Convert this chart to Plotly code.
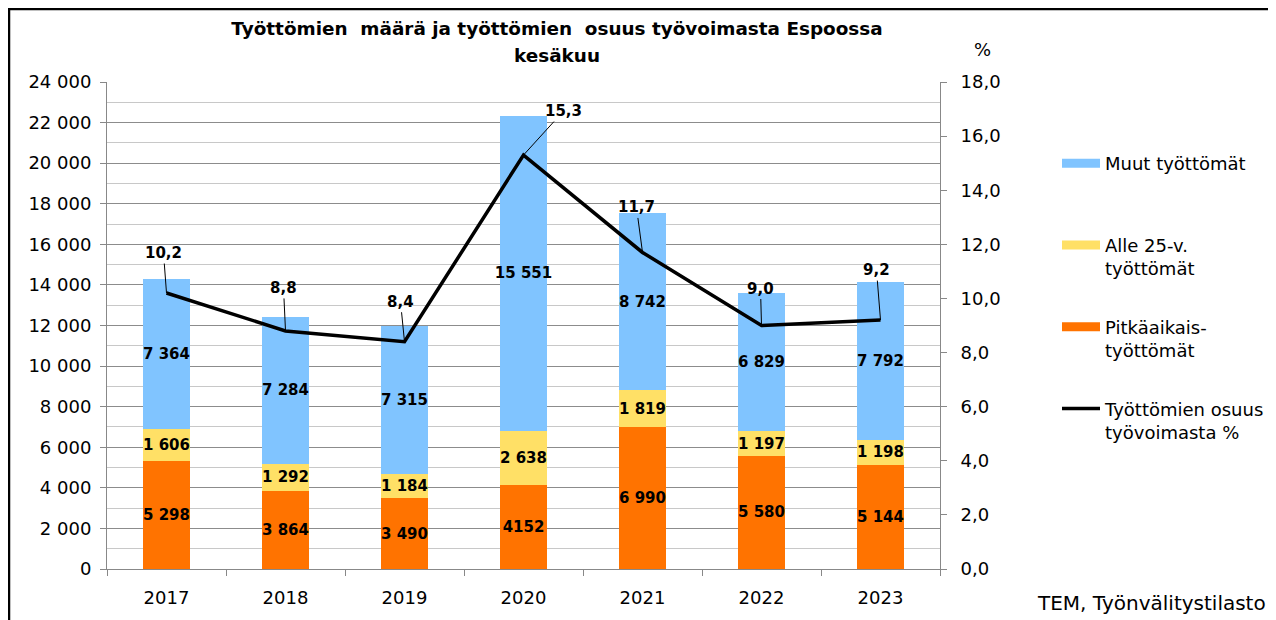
import plotly.graph_objects as go

# Data
years = ["2017", "2018", "2019", "2020", "2021", "2022", "2023"]
pitkaaikais = [5298, 3864, 3490, 4152, 6990, 5580, 5144]
alle25 = [1606, 1292, 1184, 2638, 1819, 1197, 1198]
muut = [7364, 7284, 7315, 15551, 8742, 6829, 7792]
osuus = [10.2, 8.8, 8.4, 15.3, 11.7, 9.0, 9.2]

pitka_labels = ["5 298", "3 864", "3 490", "4152", "6 990", "5 580", "5 144"]

# label offsets (px) for the percentage labels
label_dx = [-3, -2, -4, 40, -6, -1, -4]
label_dy = [-40, -43, -40, -44, -45, -37, -50]

c_pitka = "#FF7300"
c_alle = "#FFE066"
c_muut = "#80C4FF"

FONT = "DejaVu Sans, Arial, sans-serif"

# the page puts the figure 8px in from the top-left corner
W, H = 1268, 612
PL, PR, PT, PB = 107, 940, 82, 569   # plot area in page pixels


def px(x):
    return (x - PL) / (PR - PL)


def py(y):
    return (PB - y) / (PB - PT)


def fmt_int(v):
    return f"{v:,}".replace(",", " ")


fig = go.Figure()

bar_font = dict(family=FONT, size=15, color="black", weight="bold")
bar_style = dict(
    textposition="inside", insidetextanchor="middle", textangle=0,
    textfont=bar_font, showlegend=False, hoverinfo="skip", marker_line_width=0,
)

fig.add_trace(go.Bar(x=years, y=pitkaaikais, marker_color=c_pitka,
                     text=pitka_labels, **bar_style))
fig.add_trace(go.Bar(x=years, y=alle25, marker_color=c_alle,
                     text=[fmt_int(v) for v in alle25], **bar_style))
fig.add_trace(go.Bar(x=years, y=muut, marker_color=c_muut,
                     text=[fmt_int(v) for v in muut], **bar_style))

# legend entries (wide colour swatches like the original)
legend_items = [
    ("Muut työttömät<br> ", c_muut),
    ("Alle 25-v.<br>työttömät", c_alle),
    ("Pitkäaikais-<br>työttömät", c_pitka),
]
for i, (name, col) in enumerate(legend_items):
    fig.add_trace(go.Scatter(
        x=[None], y=[None], mode="lines", name=name,
        line=dict(color=col, width=9), legendgroup=f"g{i}",
    ))

fig.add_trace(go.Scatter(
    x=years, y=osuus, yaxis="y2", mode="lines",
    name="Työttömien osuus<br>työvoimasta %",
    line=dict(color="black", width=3.5), legendgroup="g3",
))

for i, (v, dx, dy) in enumerate(zip(osuus, label_dx, label_dy)):
    fig.add_annotation(
        x=i, y=v, xref="x", yref="y2",
        text=f"{v:.1f}".replace(".", ","),
        showarrow=True, arrowhead=0, arrowwidth=1, arrowcolor="black",
        ax=dx, ay=dy, standoff=0,
        font=dict(family=FONT, size=15, color="black", weight="bold"),
    )

# title
fig.update_layout(
    title=dict(
        text="Työttömien\u00a0 määrä ja työttömien\u00a0 osuus työvoimasta Espoossa",
        x=px(557), xanchor="center", xref="paper",
        y=1 - (22 - 8) / H, yanchor="top", yref="container",
        font=dict(family=FONT, size=18.4, color="black", weight="bold"),
    )
)
fig.add_annotation(
    text="kesäkuu", xref="paper", yref="paper",
    x=px(557), y=py(55), xanchor="center", yanchor="middle",
    showarrow=False, font=dict(family=FONT, size=18.4, color="black", weight="bold"),
)
fig.add_annotation(
    text="%", xref="paper", yref="paper",
    x=px(982), y=py(50), xanchor="center", yanchor="middle",
    showarrow=False, font=dict(family=FONT, size=18, color="black"),
)
fig.add_annotation(
    text="TEM, Työnvälitystilasto", xref="paper", yref="paper",
    x=px(1035), y=py(603), xanchor="left", yanchor="middle",
    showarrow=False, font=dict(family=FONT, size=20, color="black"),
)

# outer frame (left and top edges visible)
fig.add_shape(
    type="rect", xref="paper", yref="paper",
    x0=px(9), x1=px(1300), y0=py(650), y1=py(9),
    line=dict(color="black", width=2.5), fillcolor="rgba(0,0,0,0)", layer="above",
)

fig.update_layout(
    width=W, height=H,
    margin=dict(l=PL - 8, r=W - (PR - 8), t=PT - 8, b=H - (PB - 8), autoexpand=False),
    paper_bgcolor="white", plot_bgcolor="white",
    barmode="stack", bargap=0.6,
    separators=", ",
    uniformtext=dict(minsize=15, mode="show"),
    font=dict(family=FONT, size=18, color="black"),
    legend=dict(
        x=px(1057), xanchor="left",
        y=py(145), yanchor="top",
        traceorder="grouped", tracegroupgap=32, valign="top",
        itemwidth=38, font=dict(family=FONT, size=18, color="black"),
        bgcolor="rgba(0,0,0,0)",
    ),
    xaxis=dict(
        type="category", categoryorder="array", categoryarray=years,
        range=[-0.5, len(years) - 0.5],
        showline=True, linecolor="#888888", linewidth=1,
        ticks="outside", tickson="boundaries", ticklen=6, tickcolor="#888888",
        tickfont=dict(family=FONT, size=18, color="black"),
        tickangle=0, showgrid=False, automargin=False, ticklabelstandoff=12,
    ),
    yaxis=dict(
        range=[0, 24000], dtick=2000, tickformat=",d",
        showline=True, linecolor="#888888", linewidth=1,
        ticks="outside", ticklen=6, tickcolor="#888888",
        showgrid=True, gridcolor="#8c8c8c", gridwidth=1,
        minor=dict(dtick=1000, showgrid=True, gridcolor="#c8c8c8", gridwidth=1),
        tickfont=dict(family=FONT, size=18, color="black"),
        zeroline=False, automargin=False, ticklabelstandoff=5,
    ),
    yaxis2=dict(
        range=[0, 18], dtick=2, tickformat=".1f",
        overlaying="y", side="right",
        showline=True, linecolor="#888888", linewidth=1,
        ticks="outside", ticklen=6, tickcolor="#888888",
        showgrid=False, zeroline=False, automargin=False, ticklabelstandoff=10,
        tickfont=dict(family=FONT, size=18, color="black"),
    ),
)

fig.write_html("out.html")
